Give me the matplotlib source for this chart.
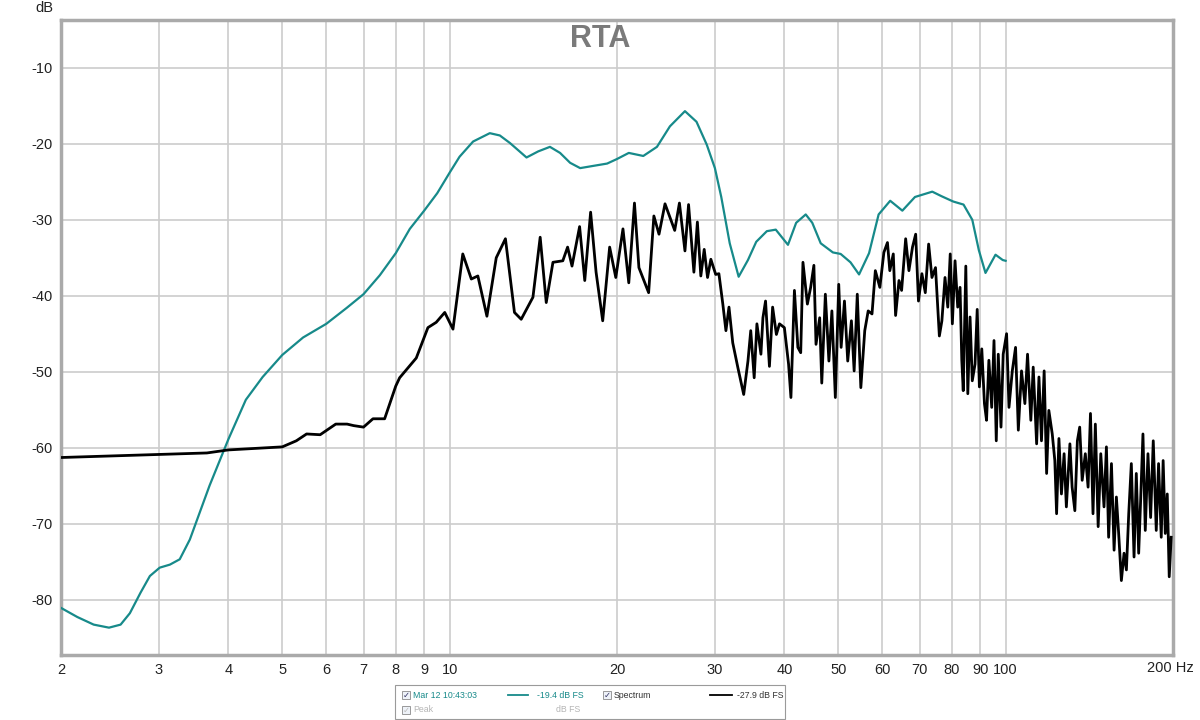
import matplotlib
import matplotlib.pyplot as plt
from matplotlib.patches import Rectangle
from matplotlib.lines import Line2D
from matplotlib.ticker import FixedLocator, NullLocator

matplotlib.use("Agg")

plt.rcParams["font.family"] = ["Liberation Sans", "DejaVu Sans"]

teal_freq = [2.0, 2.14, 2.29, 2.44, 2.56, 2.66, 2.78, 2.89, 3.01, 3.14, 3.27, 3.41, 3.70,
             4.0, 4.30, 4.61, 5.0, 5.45, 6.0, 6.53, 7.0, 7.49, 8.0, 8.48, 9.0, 9.5, 10.0,
             10.42, 11.02, 11.81, 12.31, 12.84, 13.75, 14.43, 15.15, 15.80, 16.47, 17.17,
             18.15, 19.2, 20.0, 21.0, 22.3, 23.6, 24.9, 26.5, 27.8, 29.0, 30.0, 30.8,
             31.9, 33.1, 34.4, 35.6, 37.2, 38.6, 40.6, 42.0, 43.7, 44.9, 46.5, 48.9,
             50.5, 52.6, 54.5, 56.8, 59.1, 62.0, 65.2, 68.7, 73.8, 76.7, 80.5, 84.0,
             87.1, 89.5, 92.0, 95.9, 98.8, 100.0]
teal_db = [-81.1, -82.3, -83.3, -83.7, -83.3, -81.8, -79.1, -76.9, -75.8, -75.4, -74.7,
           -72.1, -65.0, -58.9, -53.7, -50.7, -47.8, -45.5, -43.7, -41.6, -39.8, -37.3,
           -34.4, -31.2, -28.8, -26.5, -23.8, -21.7, -19.7, -18.6, -18.9, -19.9, -21.8,
           -21.0, -20.4, -21.2, -22.5, -23.2, -22.9, -22.6, -22.0, -21.2, -21.6, -20.4,
           -17.7, -15.7, -17.1, -20.1, -23.2, -27.0, -33.1, -37.5, -35.3, -32.9, -31.5,
           -31.3, -33.3, -30.4, -29.3, -30.4, -33.1, -34.3, -34.5, -35.6, -37.2, -34.4,
           -29.3, -27.5, -28.8, -27.0, -26.3, -26.9, -27.6, -28.0, -30.0, -34.0, -37.0,
           -34.6, -35.3, -35.4]

# raw spectrum (black)
spec_freq = [2.0, 3.0, 3.66, 4.0, 5.0, 5.3, 5.53, 5.85, 6.24, 6.54, 6.72, 7.0, 7.28, 7.64,
             8.0, 8.13, 8.71, 9.14, 9.46, 9.80, 10.14, 10.56, 10.94, 11.24, 11.67, 12.13,
             12.6, 13.08, 13.45, 14.12, 14.55, 14.92, 15.34, 15.98, 16.3, 16.6, 17.13,
             17.5, 17.93, 18.34, 18.85, 19.4, 19.9, 20.5, 21.0, 21.5, 21.9, 22.8, 23.3,
             23.8, 24.4, 25.4, 25.9, 26.5, 26.9, 27.5, 27.9, 28.3, 28.7, 29.1, 29.5, 30.1,
             30.5, 31.0, 31.4, 31.8, 32.3, 33.0, 33.8, 34.4, 34.8, 35.3, 35.7, 36.3, 36.6,
             37.0, 37.6, 38.1, 38.7, 39.2, 40.0, 40.7, 41.1, 41.7, 42.3, 42.8, 43.2, 44.0,
             44.6, 45.2, 45.6, 46.3, 46.7, 47.4, 48.1, 48.7, 49.4, 50.1, 50.6, 51.3, 52.0,
             52.8, 53.4, 54.1, 54.9, 55.8, 56.6, 57.5, 58.3, 59.4, 60.4, 61.3, 61.9, 62.8,
             63.4, 64.3, 65.0, 66.1, 67.0, 68.0, 68.9, 69.7, 70.7, 71.7, 72.7, 73.7, 74.8,
             76.0, 76.8, 77.8, 78.7, 79.5, 80.2, 81.1, 82.0, 82.8, 83.4, 83.9, 84.8, 85.5,
             86.3, 87.1, 88.1, 88.9, 89.7, 90.6, 91.6, 92.4, 93.3, 94.4, 95.3, 96.2, 97.0,
             98.1, 99.0, 100.4, 101.4, 102.8, 104.2, 105.4, 106.8, 108.3, 109.5, 111.0,
             112.1, 113.7, 114.8, 116.0, 117.3, 118.5, 119.6, 121.3, 122.6, 123.5, 124.7,
             126.0, 127.4, 128.6, 130.5, 131.7, 133.2, 134.6, 135.9, 137.3, 139.1, 140.7,
             142.1, 143.6, 145.0, 146.7, 148.3, 150.3, 151.8, 153.2, 155.0, 156.7, 158.2,
             159.7, 161.5, 163.3, 164.9, 166.5, 168.3, 170.2, 171.8, 173.5, 174.9, 176.6,
             178.3, 180.3, 182.3, 184.3, 186.6, 188.4, 190.5, 192.0, 193.7, 195.3, 196.9,
             198.5]
spec_db = [-61.3, -60.9, -60.7, -60.3, -59.9, -59.1, -58.2, -58.3, -56.9, -56.9, -57.1,
           -57.3, -56.2, -56.2, -51.9, -50.8, -48.2, -44.2, -43.5, -42.2, -44.4, -34.5,
           -37.8, -37.4, -42.7, -35.0, -32.5, -42.2, -43.1, -40.2, -32.3, -40.9, -35.6,
           -35.4, -33.6, -36.1, -30.9, -38.0, -29.0, -36.9, -43.3, -33.6, -37.6, -31.2,
           -38.3, -27.8, -36.3, -39.6, -29.5, -31.9, -27.9, -31.4, -27.8, -34.1, -28.0,
           -36.9, -30.3, -37.4, -33.9, -37.6, -35.2, -37.2,
           -37.1, -41.1, -44.6, -41.5, -46.2, -49.5, -53.0, -48.6, -44.6, -50.8, -43.7,
           -47.7, -42.9, -40.7, -49.3, -41.5, -45.1, -43.7, -44.2, -49.0, -53.4, -39.3,
           -46.8, -47.5, -35.6, -41.1, -38.9, -36.0, -46.4, -42.9, -51.5, -39.8, -48.6,
           -42.0, -53.4, -38.5, -46.8, -40.7, -48.6, -43.3, -49.9, -39.8, -52.1, -44.6,
           -42.0, -42.4, -36.7, -38.9, -34.3, -33.0, -36.7, -34.5, -42.6, -38.0, -39.3,
           -32.5, -36.7, -33.6, -31.9, -40.7, -37.1, -39.6, -33.2, -37.6, -36.3, -45.3,
           -43.3, -37.6, -41.5, -34.5, -43.7, -35.4, -41.5, -38.9, -48.5, -52.5, -36.1,
           -52.9, -42.8, -51.2, -49.0, -41.8, -52.0, -47.0, -54.2, -56.4, -48.5, -54.7,
           -45.9, -59.1, -47.7, -57.3, -47.7, -45.0, -54.7, -49.9, -46.8, -57.7, -49.9,
           -54.2, -47.7, -56.4, -49.4, -59.5, -50.7, -59.1, -49.9, -63.4, -55.1, -58.2,
           -61.7, -68.7, -58.8, -66.1, -60.8, -67.8, -59.5, -65.2, -68.3, -59.1, -57.3,
           -64.3, -60.8, -65.2, -55.5, -68.7, -56.9, -70.4, -60.8, -67.8, -59.9, -71.8,
           -62.1, -73.5, -66.5, -71.3, -77.5, -73.9, -76.1, -68.7, -62.1, -74.4, -63.4,
           -73.9, -67.0, -58.2, -70.9, -60.8, -69.2, -59.1, -70.9, -62.1, -71.8, -61.7,
           -71.3, -66.1, -77.0, -71.8]

x_ticks = [2, 3, 4, 5, 6, 7, 8, 9, 10, 20, 30, 40, 50, 60, 70, 80, 90, 100, 200]
x_labels = ["2", "3", "4", "5", "6", "7", "8", "9", "10", "20", "30", "40", "50",
            "60", "70", "80", "90", "100", ""]
y_ticks = [-80, -70, -60, -50, -40, -30, -20, -10]

TEAL = "#178a8a"
W, H = 1200, 720


def fx(px):
    return px / W


def fy(py):
    return 1 - py / H


fig = plt.figure(figsize=(12, 7.2), dpi=100)
ax = fig.add_axes([fx(61), fy(655), (1173 - 61) / W, (655 - 20) / H])

ax.plot(teal_freq, teal_db, color=TEAL, lw=1.6, solid_joinstyle="round", zorder=3)
ax.plot(spec_freq, spec_db, color="black", lw=2.0, solid_joinstyle="round", zorder=4)

ax.set_xscale("log")
ax.set_xlim(2, 200)
ax.set_ylim(-87.3, -3.7)
ax.xaxis.set_major_locator(FixedLocator(x_ticks))
ax.xaxis.set_minor_locator(NullLocator())
ax.set_xticklabels(x_labels)
ax.set_yticks(y_ticks)
ax.set_yticklabels([str(v) for v in y_ticks])
ax.grid(True, color="#cccccc", lw=1.2, zorder=0)
ax.tick_params(length=0, labelsize=10.5, colors="#222222", pad=6)
for s in ax.spines.values():
    s.set_color("#aaaaaa")
    s.set_linewidth(2.5)

fig.text(fx(600), fy(39), "RTA", ha="center", va="center",
         fontsize=22, fontweight="bold", color="#7a7a7a", zorder=5)

fig.text(fx(53), fy(8), "dB", ha="right", va="center", fontsize=10.5, color="#222222")
fig.text(fx(1147), fy(668), "200 Hz", ha="left", va="center", fontsize=10.5,
         color="#222222")

# legend panel under the plot
fig.patches.append(Rectangle((fx(395), fy(719)), (785 - 395) / W, (719 - 685) / H,
                             transform=fig.transFigure, fill=False,
                             edgecolor="#9a9a9a", lw=0.8))


def checkbox(px, py, color):
    fig.patches.append(Rectangle((fx(px), fy(py + 4)), 8 / W, 8 / H,
                                 transform=fig.transFigure, fill=True,
                                 facecolor="#eef2f8", edgecolor="#8a8a8a", lw=0.6))
    fig.text(fx(px + 4), fy(py), "\u2713", ha="center", va="center", fontsize=6,
             color=color, family=["DejaVu Sans"])


checkbox(402, 695, "#333366")
fig.text(fx(413), fy(695), "Mar 12 10:43:03", ha="left", va="center", fontsize=6.3,
         color=TEAL)
fig.lines.append(Line2D([fx(508), fx(528)], [fy(695), fy(695)], transform=fig.transFigure,
                        color=TEAL, lw=1.3))
fig.text(fx(537), fy(695), "-19.4 dB FS", ha="left", va="center", fontsize=6.3,
         color=TEAL)
checkbox(603, 695, "#333366")
fig.text(fx(614), fy(695), "Spectrum", ha="left", va="center", fontsize=6.3,
         color="#333333")
fig.lines.append(Line2D([fx(710), fx(732)], [fy(695), fy(695)], transform=fig.transFigure,
                        color="black", lw=1.3))
fig.text(fx(737), fy(695), "-27.9 dB FS", ha="left", va="center", fontsize=6.3,
         color="#333333")
checkbox(402, 710, "#bbbbbb")
fig.text(fx(413), fy(710), "Peak", ha="left", va="center", fontsize=6.3, color="#b5b5b5")
fig.text(fx(556), fy(710), "dB FS", ha="left", va="center", fontsize=6.3, color="#b5b5b5")

fig.savefig("out.png", dpi=100, facecolor="white")
plt.close(fig)
